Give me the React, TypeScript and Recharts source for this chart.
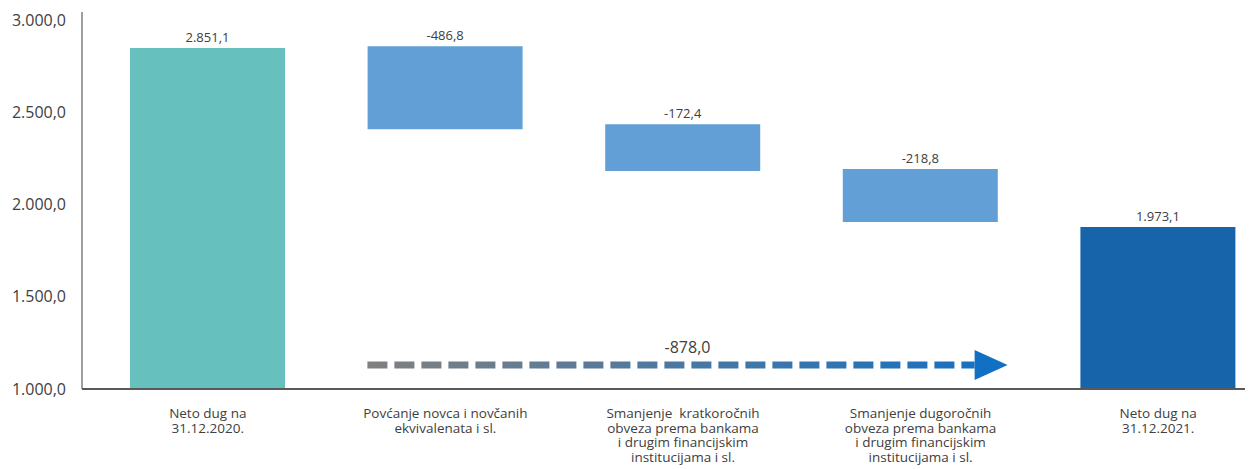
import { BarChart, Bar, XAxis, YAxis, Cell, LabelList, ReferenceLine } from 'recharts'

const categories = [
  'Neto dug na\n31.12.2020.',
  'Povćanje novca i novčanih\nekvivalenata i sl.',
  'Smanjenje  kratkoročnih\nobveza prema bankama\ni drugim financijskim\ninstitucijama i sl.',
  'Smanjenje dugoročnih\nobveza prema bankama\ni drugim financijskim\ninstitucijama i sl.',
  'Neto dug na\n31.12.2021.',
]

// labelled values
const changes = [2851.1, -486.8, -172.4, -218.8, 1973.1]
// bar extents as drawn in the picture
const barLow = [1000, 2408, 2181, 1905, 1000]
const barHigh = [2848, 2858, 2435, 2192, 1878]
const barColors = ['#66C0BE', '#629FD6', '#629FD6', '#629FD6', '#1764AA']

const yTicks = [1000, 1500, 2000, 2500, 3000]
const totalChange = -878.0
const arrowLevel = 1130

function fmt(v: number) {
  const [i, d] = Math.abs(v).toFixed(1).split('.')
  return (v < 0 ? '-' : '') + i.replace(/\B(?=(\d{3})+(?!\d))/g, '.') + ',' + d
}

const data = categories.map((name, i) => ({
  name,
  range: [barLow[i], barHigh[i]],
  label: fmt(changes[i]),
}))

function CatTick({ x, y, payload }: any) {
  const lines = String(payload.value).split('\n')
  return (
    <text x={x} y={y} textAnchor="middle" fill="#404040" fontSize={13.5} style={{ whiteSpace: 'pre' }}>
      {lines.map((l, i) => (
        <tspan key={i} x={x} dy={i === 0 ? 21 : 14.5}>{l}</tspan>
      ))}
    </text>
  )
}

function ArrowShape(p: any) {
  const { x1, y1, x2 } = p
  const start = x1 - 78
  const tip = x2 + 87
  const headBase = tip - 33
  return (
    <g>
      <defs>
        <linearGradient id="arrowGrad" gradientUnits="userSpaceOnUse" x1={start} y1={y1} x2={tip} y2={y1}>
          <stop offset="0%" stopColor="#808080" />
          <stop offset="100%" stopColor="#1270C4" />
        </linearGradient>
      </defs>
      <line x1={start} y1={y1} x2={headBase} y2={y1} stroke="url(#arrowGrad)" strokeWidth={7} strokeDasharray="20 7" />
      <polygon points={`${headBase},${y1 - 15} ${tip},${y1} ${headBase},${y1 + 15}`} fill="#1270C4" />
      <text x={(start + tip) / 2} y={y1 - 12} textAnchor="middle" fontSize={16} fill="#404040">
        {fmt(totalChange)}
      </text>
    </g>
  )
}

export default function App() {
  return (
    <div style={{ position: 'absolute', left: 0, top: 0, width: 1254, height: 469, background: '#fff', fontFamily: "'Open Sans', sans-serif" }}>
      <BarChart width={1254} height={469} data={data} margin={{ top: 12, right: 9, left: 0, bottom: 0 }}>
        <YAxis
          type="number"
          width={82}
          domain={[1000, 3043]}
          ticks={yTicks}
          allowDataOverflow
          tickFormatter={fmt}
          tickLine={false}
          tickMargin={10}
          tick={{ fontSize: 16, fill: '#404040' }}
          axisLine={{ stroke: '#7F7F7F', strokeWidth: 1.5 }}
        />
        <XAxis
          dataKey="name"
          interval={0}
          tickLine={false}
          height={80}
          padding={{ left: 7, right: -32 }}
          axisLine={{ stroke: '#595959', strokeWidth: 2 }}
          tick={<CatTick />}
        />
        <Bar dataKey="range" barSize={155} isAnimationActive={false}>
          {data.map((d, i) => (
            <Cell key={d.name} fill={barColors[i]} />
          ))}
          <LabelList dataKey="label" position="top" offset={6} fontSize={13} fill="#404040" />
        </Bar>
        <ReferenceLine
          segment={[{ x: categories[1], y: arrowLevel }, { x: categories[3], y: arrowLevel }]}
          ifOverflow="visible"
          shape={ArrowShape}
        />
      </BarChart>
    </div>
  )
}
